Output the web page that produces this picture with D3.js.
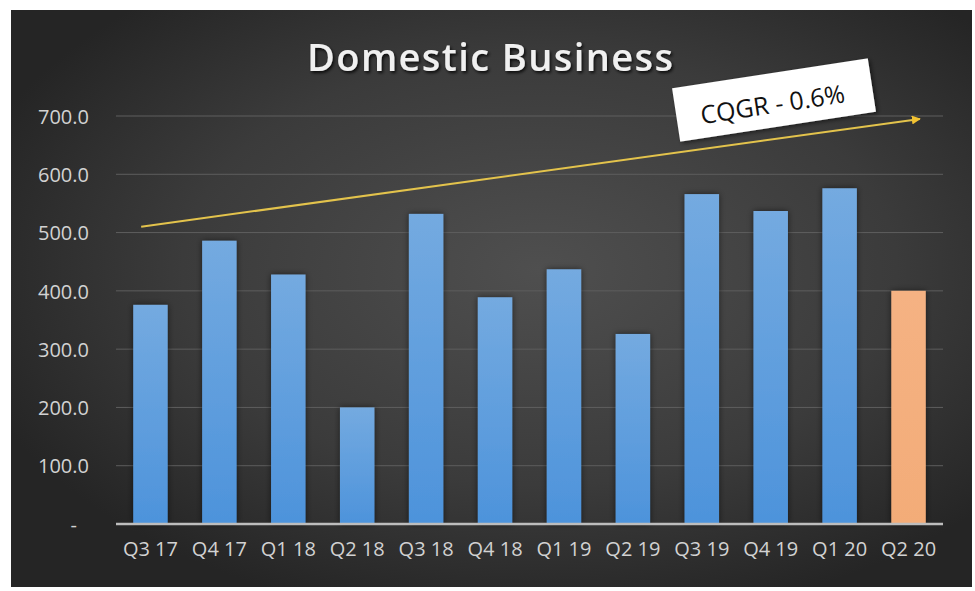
<!DOCTYPE html>
<html>
<head>
<meta charset="utf-8">
<script src="https://cdn.jsdelivr.net/npm/d3@7"></script>
<style>
  html, body { margin: 0; padding: 0; background: #ffffff; }
  svg { display: block; }
</style>
</head>
<body>
<svg id="chart" width="975" height="591"></svg>
<script>
// ---- data ----
const categories = ["Q3 17","Q4 17","Q1 18","Q2 18","Q3 18","Q4 18","Q1 19","Q2 19","Q3 19","Q4 19","Q1 20","Q2 20"];
const values = [376, 486, 428, 200, 532, 389, 437, 326, 566, 537, 576, 400];
const highlighted = ["Q2 20"];
const yTicks = [0, 100, 200, 300, 400, 500, 600, 700];
const titleText = "Domestic Business";
const calloutText = "CQGR - 0.6%";
const trendStart = { cat: "Q3 17", offset: 0.23, value: 510 };
const trendEnd = { cat: "Q2 20", offset: 0.83, value: 695 };

// ---- layout ----
const W = 975, H = 591;
const frame = { x: 11, y: 10, w: 961, h: 577 };
const plot = { left: 116, right: 943, top: 116, bottom: 524 };

const svg = d3.select("#chart");
const defs = svg.append("defs");

const bg = defs.append("radialGradient").attr("id", "bg")
  .attr("cx", "55%").attr("cy", "45%").attr("r", "62%");
bg.append("stop").attr("offset", "0%").attr("stop-color", "#4f4f4f");
bg.append("stop").attr("offset", "60%").attr("stop-color", "#3b3b3b");
bg.append("stop").attr("offset", "100%").attr("stop-color", "#252525");

const blueG = defs.append("linearGradient").attr("id", "blueG")
  .attr("x1", 0).attr("y1", 0).attr("x2", 0).attr("y2", 1);
blueG.append("stop").attr("offset", "0%").attr("stop-color", "#74aae0");
blueG.append("stop").attr("offset", "100%").attr("stop-color", "#4d93db");

const orangeG = defs.append("linearGradient").attr("id", "orangeG")
  .attr("x1", 0).attr("y1", 0).attr("x2", 0).attr("y2", 1);
orangeG.append("stop").attr("offset", "0%").attr("stop-color", "#f5b283");
orangeG.append("stop").attr("offset", "100%").attr("stop-color", "#f3ac78");

const sh = defs.append("filter").attr("id", "barShadow")
  .attr("x", "-40%").attr("y", "-10%").attr("width", "180%").attr("height", "120%");
sh.append("feDropShadow").attr("dx", 0).attr("dy", 0).attr("stdDeviation", 3)
  .attr("flood-color", "#000").attr("flood-opacity", 0.55);

const tsh = defs.append("filter").attr("id", "textShadow")
  .attr("x", "-10%").attr("y", "-30%").attr("width", "120%").attr("height", "160%");
tsh.append("feDropShadow").attr("dx", 1.5).attr("dy", 2).attr("stdDeviation", 1.5)
  .attr("flood-color", "#000").attr("flood-opacity", 0.8);

const bsh = defs.append("filter").attr("id", "boxShadow")
  .attr("x", "-10%").attr("y", "-30%").attr("width", "120%").attr("height", "160%");
bsh.append("feDropShadow").attr("dx", 2).attr("dy", 2).attr("stdDeviation", 2)
  .attr("flood-color", "#000").attr("flood-opacity", 0.5);

defs.append("marker").attr("id", "arrow")
  .attr("viewBox", "0 0 10 10").attr("refX", 9).attr("refY", 5)
  .attr("markerWidth", 9).attr("markerHeight", 9).attr("markerUnits", "userSpaceOnUse")
  .attr("orient", "auto")
  .append("path").attr("d", "M0,0 L10,5 L0,10 Z").attr("fill", "#f2c232");

// background
svg.append("rect").attr("x", frame.x).attr("y", frame.y)
  .attr("width", frame.w).attr("height", frame.h).attr("fill", "url(#bg)");

// scales
const x = d3.scaleBand().domain(categories).range([plot.left, plot.right])
  .paddingInner(0.5).paddingOuter(0.25);
const y = d3.scaleLinear().domain([0, 700]).range([plot.bottom, plot.top]);

// gridlines
svg.append("g").selectAll("line").data(yTicks.filter(d => d > 0)).join("line")
  .attr("x1", plot.left).attr("x2", plot.right)
  .attr("y1", d => y(d)).attr("y2", d => y(d))
  .attr("stroke", "#5e5e5e").attr("stroke-width", 1);

// y axis labels
const yAxis = d3.axisLeft(y).tickValues(yTicks)
  .tickFormat(d => d === 0 ? "-" : d3.format(".1f")(d)).tickSize(0).tickPadding(0);
const yg = svg.append("g").attr("transform", `translate(${plot.left - 27},0)`).call(yAxis);
yg.select(".domain").remove();
yg.selectAll("text")
  .attr("fill", "#d2d2d2").attr("font-family", "'Open Sans', sans-serif").attr("font-size", 20)
  .attr("dy", "0.36em")
  .attr("dx", d => d === 0 ? -12 : 0);

// bars
svg.append("g").selectAll("rect").data(categories).join("rect")
  .attr("x", d => x(d)).attr("width", x.bandwidth())
  .attr("y", (d, i) => y(values[i]))
  .attr("height", (d, i) => y(0) - y(values[i]))
  .attr("fill", d => highlighted.includes(d) ? "url(#orangeG)" : "url(#blueG)")
  .attr("filter", "url(#barShadow)");

// x axis baseline + labels
const xAxis = d3.axisBottom(x).tickSize(0).tickPadding(20);
const xg = svg.append("g").attr("transform", `translate(0,${plot.bottom})`).call(xAxis);
xg.select(".domain").attr("stroke", "#bdbdbd").attr("stroke-width", 2.5)
  .attr("d", `M${plot.left},0H${plot.right}`);
xg.selectAll("text")
  .attr("fill", "#d2d2d2").attr("font-family", "'Open Sans', sans-serif").attr("font-size", 20)
  .attr("dy", "0.71em").attr("y", 18);

// title
svg.append("text").attr("x", 490).attr("y", 71)
  .attr("text-anchor", "middle")
  .attr("font-family", "'Open Sans', sans-serif").attr("font-weight", 600)
  .attr("font-size", 38).attr("fill", "#f0f0f0")
  .attr("textLength", 366).attr("lengthAdjust", "spacing")
  .attr("filter", "url(#textShadow)")
  .text(titleText);

// trend arrow
const tx = p => x(p.cat) + p.offset * x.bandwidth();
svg.append("line")
  .attr("x1", tx(trendStart)).attr("y1", y(trendStart.value))
  .attr("x2", tx(trendEnd)).attr("y2", y(trendEnd.value))
  .attr("stroke", "#e3c34c").attr("stroke-width", 2)
  .attr("marker-end", "url(#arrow)");

// callout box
const cx = 774, cy = 100;
const cg = svg.append("g").attr("transform", `translate(${cx},${cy}) rotate(-8.7)`);
cg.append("rect").attr("x", -99).attr("y", -27).attr("width", 198).attr("height", 54)
  .attr("fill", "#ffffff").attr("filter", "url(#boxShadow)");
cg.append("text").attr("x", -2).attr("y", 13).attr("text-anchor", "middle")
  .attr("font-family", "'Open Sans', sans-serif").attr("font-size", 25)
  .attr("fill", "#111").text(calloutText);
</script>
</body>
</html>
